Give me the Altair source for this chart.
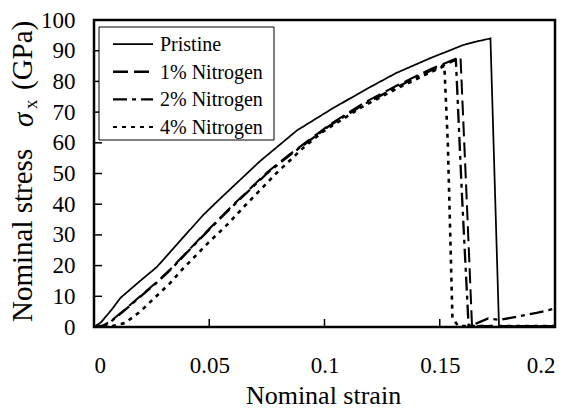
import altair as alt
import pandas as pd

# Stress-strain curves (strain, stress in GPa) for each nitrogen content
series_names = ["Pristine", "1% Nitrogen", "2% Nitrogen", "4% Nitrogen"]

pristine_strain = [0, 0.003, 0.0075, 0.0115, 0.02, 0.0272, 0.0343, 0.0474, 0.055, 0.072,
                   0.088, 0.1024, 0.117, 0.131, 0.146, 0.160, 0.166, 0.172, 0.1757, 0.2]
pristine_stress = [0, 1.5, 5.5, 9.5, 15, 19.5, 25.5, 36.5, 42, 54,
                   64, 70.7, 77, 82.7, 87.6, 91.8, 93, 94, 0.3, 0.3]

n1_strain = [0, 0.004, 0.007, 0.0126, 0.02, 0.027, 0.033, 0.040, 0.049, 0.059, 0.075,
             0.085, 0.094, 0.102, 0.117, 0.131, 0.146, 0.159, 0.1615, 0.164, 0.2]
n1_stress = [0, 0.5, 1.8, 5.2, 10, 14.5, 18.7, 24.2, 31.2, 38.8, 50.3,
             56.3, 61.3, 65.8, 73, 78.5, 84, 88, 45, 0.3, 0.3]

n2_strain = [0, 0.005, 0.007, 0.0126, 0.02, 0.027, 0.033, 0.040, 0.049, 0.059, 0.075,
             0.085, 0.094, 0.102, 0.117, 0.131, 0.146, 0.157, 0.1595, 0.1625, 0.166,
             0.171, 0.176, 0.185, 0.192, 0.2]
n2_stress = [0, 0.5, 1.6, 5, 9.8, 14.3, 18.5, 24, 31, 38.5, 50,
             56, 61, 65.5, 72.5, 78, 83.5, 87, 45, 0.5, 1.2,
             2.8, 2.3, 3.6, 4.6, 6]

n4_strain = [0, 0.008, 0.0135, 0.02, 0.027, 0.033, 0.0386, 0.049, 0.058, 0.0655, 0.079,
             0.091, 0.099, 0.117, 0.131, 0.146, 0.152, 0.1535, 0.1555, 0.158, 0.2]
n4_stress = [0, 0.3, 1.3, 5, 10, 14.3, 19, 27, 33.5, 39.5, 50,
             58.5, 63.5, 72, 77.5, 83, 85, 60, 3, 0.3, 0.3]

x_ticks = [0, 0.05, 0.1, 0.15, 0.2]
y_ticks = [0, 10, 20, 30, 40, 50, 60, 70, 80, 90, 100]

# line styles per series
dashes = [[1, 0], [15, 6], [14, 5, 4, 5], [4, 5]]
widths = [1.75, 2.6, 2.4, 2.0]

FONT = "Liberation Serif"
W, H = 461, 307

rows = []
for name, xs, ys in zip(series_names,
                        [pristine_strain, n1_strain, n2_strain, n4_strain],
                        [pristine_stress, n1_stress, n2_stress, n4_stress]):
    for i, (sx, sy) in enumerate(zip(xs, ys)):
        rows.append({"series": name, "strain": sx, "stress": sy, "order": i})
df = pd.DataFrame(rows)

x_scale = alt.Scale(domain=[0, 0.2], nice=False)
y_scale = alt.Scale(domain=[0, 100], nice=False)

# one axis definition per channel, shared by every layer on that scale
x_axis = alt.Axis(values=x_ticks, format="~g", title="Nominal strain",
                  titleX=229, titleY=76, titleBaseline="alphabetic",
                  labelBaseline="alphabetic", labelPadding=45,
                  labelOverlap=False, labelFont=FONT, labelFontSize=23,
                  titleFont=FONT, titleFontSize=26)
y_axis = alt.Axis(values=y_ticks, title=None, labelPadding=19,
                  labelOverlap=False, labelFont=FONT, labelFontSize=23)

lines = alt.Chart(df).mark_line(color="black", clip=True).encode(
    x=alt.X("strain:Q", scale=x_scale, axis=x_axis),
    y=alt.Y("stress:Q", scale=y_scale, axis=y_axis),
    detail="series:N",
    order="order:Q",
    strokeDash=alt.StrokeDash("series:N",
                              scale=alt.Scale(domain=series_names, range=dashes),
                              legend=None),
    strokeWidth=alt.StrokeWidth("series:N",
                                scale=alt.Scale(domain=series_names, range=widths),
                                legend=None),
)

# inward tick marks
ytick_df = pd.DataFrame({"stress": y_ticks[1:-1]})
ytick_marks = alt.Chart(ytick_df).mark_rule(color="black", strokeWidth=1.5).encode(
    y=alt.Y("stress:Q", scale=y_scale, axis=y_axis), x=alt.value(0), x2=alt.value(8))
xtick_df = pd.DataFrame({"strain": x_ticks[1:-1]})
xtick_marks = alt.Chart(xtick_df).mark_rule(color="black", strokeWidth=1.5).encode(
    x=alt.X("strain:Q", scale=x_scale, axis=x_axis), y=alt.value(H), y2=alt.value(H - 8))

# y-axis title assembled from pieces: Nominal stress, italic sigma, subscript x, (GPa)
one = pd.DataFrame({"k": [0]})
def rot_text(txt, x, y, size, style="normal"):
    return alt.Chart(one).mark_text(text=txt, angle=270, align="left", baseline="alphabetic",
                                    font=FONT, fontSize=size, fontStyle=style,
                                    color="black").encode(x=alt.value(x), y=alt.value(y))

ytitle = [
    rot_text("Nominal stress", -62, 302, 29),
    rot_text("σ", -61, 107, 29, "italic"),
    rot_text("x", -57, 89, 19),
    rot_text("(GPa)", -62, 70, 29),
]

# legend box with line samples
legend_layers = [
    alt.Chart(one).mark_rect(fill="white", stroke="black", strokeWidth=1).encode(
        x=alt.value(5), x2=alt.value(180), y=alt.value(7), y2=alt.value(120))
]
for i, name in enumerate(series_names):
    yy = 24 + 27.7 * i
    legend_layers.append(
        alt.Chart(one).mark_rule(color="black", strokeDash=dashes[i],
                                 strokeWidth=widths[i]).encode(
            x=alt.value(19), x2=alt.value(59), y=alt.value(yy)))
    legend_layers.append(
        alt.Chart(one).mark_text(text=name, align="left", baseline="middle", font=FONT,
                                 fontSize=20, color="black").encode(
            x=alt.value(66), y=alt.value(yy + 1)))

chart = alt.layer(lines, ytick_marks, xtick_marks, *ytitle, *legend_layers).properties(
    width=W, height=H,
    autosize=alt.AutoSizeParams(type="none"),
    padding={"left": 94, "top": 20, "right": 16, "bottom": 83},
    background="white",
).configure_view(
    stroke="black", strokeWidth=2.5
).configure_axis(
    domain=False, ticks=False, grid=False,
    labelColor="black", titleFontWeight="normal", titleColor="black",
)

chart.save("out.html", embed_options={"renderer": "svg", "actions": False})
